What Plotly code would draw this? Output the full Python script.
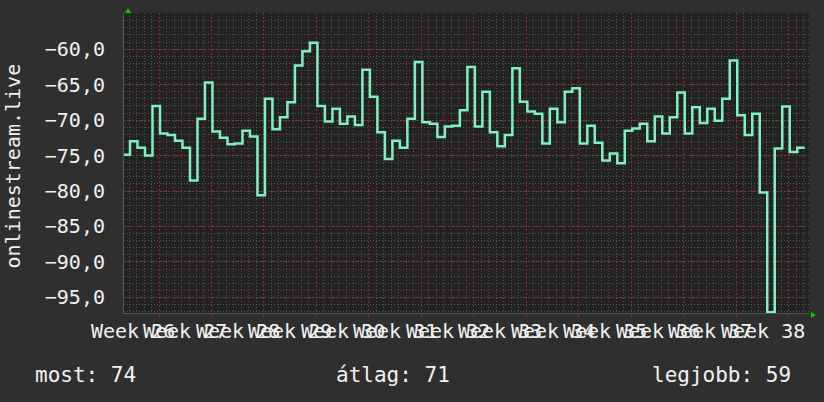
import plotly.graph_objects as go

# daily signal values (dBm-like), one per day
signal = [
    -74.9, -73.0, -73.9, -75.0, -68.0, -71.9, -72.1, -72.9, -73.9, -78.5,
    -69.8, -64.7, -71.6, -72.5, -73.4, -73.3, -71.5, -72.3, -80.6, -67.0,
    -71.3, -69.6, -67.5, -62.3, -60.3, -59.1, -68.0, -70.2, -68.4, -70.5,
    -69.5, -70.7, -62.9, -66.7, -71.7, -75.5, -72.9, -73.9, -69.8, -61.8,
    -70.3, -70.5, -72.4, -70.9, -70.8, -68.6, -62.5, -70.9, -66.0, -71.7,
    -73.7, -72.1, -62.7, -67.4, -68.8, -69.1, -73.3, -68.4, -70.3, -66.0,
    -65.5, -73.3, -70.8, -73.2, -75.7, -74.7, -76.1, -71.5, -71.2, -70.5,
    -73.0, -69.5, -71.9, -69.6, -66.1, -71.9, -68.2, -70.4, -68.4, -70.1,
    -67.0, -61.6, -69.3, -72.1, -69.1, -80.2, -97.1, -74.0, -68.1, -74.5,
    -73.9,
]
day = list(range(len(signal) + 1))
signal_steps = signal + [signal[-1]]

week_numbers = list(range(26, 39))
week_labels = [f"Week {w}" for w in week_numbers]

y_ticks = [-60, -65, -70, -75, -80, -85, -90, -95]

summary_labels = ["most", "átlag", "legjobb"]
summary_values = [74, 71, 59]

series_name = "onlinestream.live"

WEEK_EDGE0 = 4.87
X_RANGE = [0.2, 91.57]
Y_RANGE = [-97.2, -54.9]

FONT = "DejaVu Sans Mono"
TXT = "#f2f2f2"
RED = "rgba(140,52,52,0.95)"
GRAY = "rgba(88,88,88,0.9)"

fig = go.Figure()
fig.add_trace(go.Scatter(
    x=day, y=signal_steps, mode="lines",
    line=dict(shape="hv", color="#7ff0c0", width=2.5),
    hoverinfo="skip", showlegend=False,
))

fig.update_layout(
    width=824, height=402,
    template="none",
    paper_bgcolor="#2f2f2f",
    plot_bgcolor="#222222",
    margin=dict(l=124, r=15, t=13, b=89),
    separators=",.",
    showlegend=False,
    font=dict(family=FONT, color=TXT, size=20),
)

fig.update_xaxes(
    range=X_RANGE, tickmode="linear", tick0=WEEK_EDGE0, dtick=7,
    showticklabels=False, showgrid=True, gridcolor=RED, griddash="2px,2px", gridwidth=1,
    ticks="outside", ticklen=3, tickcolor=RED,
    minor=dict(tickmode="linear", tick0=WEEK_EDGE0, dtick=1, showgrid=True,
               gridcolor=GRAY, griddash="1px,2px", gridwidth=1),
    zeroline=False, showline=True, linecolor="#555555", linewidth=1,
)
fig.update_yaxes(
    range=Y_RANGE, tickmode="array", tickvals=y_ticks, tickformat=".1f",
    tickfont=dict(family=FONT, size=20, color=TXT),
    showgrid=True, gridcolor=RED, griddash="2px,2px", gridwidth=1,
    minor=dict(tickmode="linear", tick0=-60, dtick=1, showgrid=True,
               gridcolor=GRAY, griddash="1px,2px", gridwidth=1),
    ticks="", ticklabelstandoff=14,
    zeroline=False, showline=True, linecolor="#555555", linewidth=1,
)

annotations = []
for i, lab in enumerate(week_labels):
    annotations.append(dict(
        x=WEEK_EDGE0 + 7 * i - 3.5, xref="x", y=0, yref="paper",
        xanchor="center", yanchor="middle", yshift=-18,
        text=lab, showarrow=False, font=dict(family=FONT, size=20, color=TXT),
    ))

summary_shift = [-91, 210, 526]
for lab, val, sh in zip(summary_labels, summary_values, summary_shift):
    annotations.append(dict(
        x=0, xref="paper", y=0, yref="paper", xanchor="left", yanchor="middle",
        xshift=sh, yshift=-62, text=f"{lab}: {val}", showarrow=False,
        font=dict(family=FONT, size=21, color=TXT),
    ))

annotations.append(dict(
    x=0, xref="paper", y=0.5, yref="paper", xanchor="center", yanchor="middle",
    xshift=-111.5, yshift=-3, text=series_name, textangle=-90, showarrow=False,
    font=dict(family=FONT, size=20, color=TXT),
))
fig.update_layout(annotations=annotations)

fig.update_layout(shapes=[
    dict(type="path", xref="paper", yref="paper", xsizemode="pixel", ysizemode="pixel",
         xanchor=0, yanchor=1, path="M 1,0 L 7,0 L 4,5 Z",
         fillcolor="#00d000", line=dict(width=0)),
    dict(type="path", xref="paper", yref="paper", xsizemode="pixel", ysizemode="pixel",
         xanchor=1, yanchor=0, path="M 2,-5 L 2,1 L 7,-2 Z",
         fillcolor="#00d000", line=dict(width=0)),
])

fig.write_html("out.html", config={"displayModeBar": False},
               post_script="document.body.style.margin='0';")
